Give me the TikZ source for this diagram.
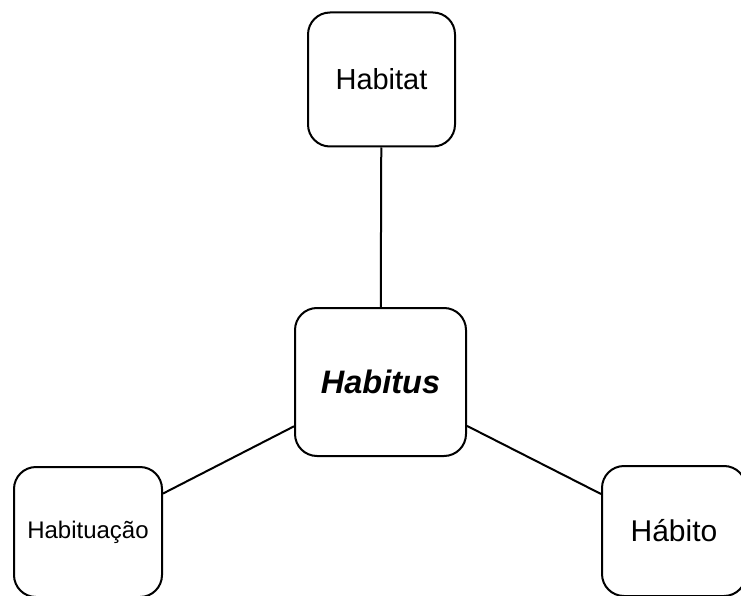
\documentclass[tikz,border=0pt]{standalone}
\usepackage{fontspec}
\setmainfont{Liberation Sans}
\tikzset{
    termbox/.style={draw, line width=2pt, rounded corners=22pt, align=center, inner sep=0pt},
}
\begin{document}
\begin{tikzpicture}[x=1pt, y=-1pt]
    \def\picW{741} % width of the picture
    \def\picH{596} % height of the picture

    \clip (0,0) rectangle (\picW,\picH);

    \node[termbox, minimum width=171pt, minimum height=148pt] (habitus) at (380.5,382)
        {\fontsize{32.5}{38}\selectfont\bfseries\itshape Habitus};
    \node[termbox, minimum width=147pt, minimum height=134pt] (habitat) at (381.5,79.5)
        {\fontsize{29}{34}\selectfont Habitat};
    \node[termbox, minimum width=148pt, minimum height=130pt] (habituacao) at (88,532)
        {\fontsize{24}{29}\selectfont Habituação};
    \node[termbox, minimum width=144pt, minimum height=130pt] (habito) at (674,531)
        {\fontsize{30}{35}\selectfont Hábito};

    \foreach \n in {habitat,habituacao,habito} {
        \draw[line width=2pt] (habitus) -- (\n);
    }

\end{tikzpicture}
\end{document}
